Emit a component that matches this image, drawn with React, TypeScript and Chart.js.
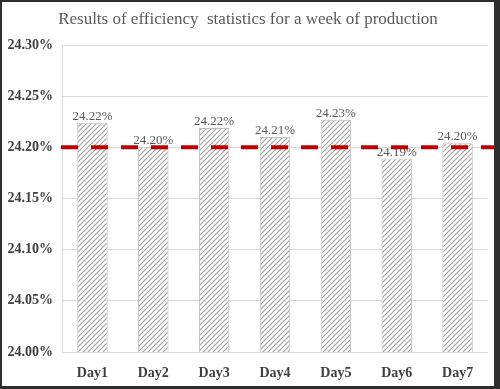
import React, { useEffect, useRef } from "react";
import { Chart, registerables } from "chart.js";

Chart.register(...registerables);

const categories = ["Day1", "Day2", "Day3", "Day4", "Day5", "Day6", "Day7"];
const efficiency = [24.224, 24.2, 24.219, 24.21, 24.227, 24.189, 24.204];
const targetValue = 24.2;
const yTicks = [24.0, 24.05, 24.1, 24.15, 24.2, 24.25, 24.3];
const titleText = "Results of efficiency  statistics for a week of production";

function makeHatch(): CanvasPattern | string {
  const s = 5;
  const c = document.createElement("canvas");
  c.width = s;
  c.height = s;
  const ctx = c.getContext("2d");
  if (!ctx) return "#ffffff";
  ctx.fillStyle = "#ffffff";
  ctx.fillRect(0, 0, s, s);
  ctx.strokeStyle = "#a0a0a0";
  ctx.lineWidth = 1.2;
  ctx.beginPath();
  ctx.moveTo(-1, s + 1);
  ctx.lineTo(s + 1, -1);
  ctx.moveTo(-1, 1);
  ctx.lineTo(1, -1);
  ctx.moveTo(s - 1, s + 1);
  ctx.lineTo(s + 1, s - 1);
  ctx.stroke();
  return ctx.createPattern(c, "repeat") || "#ffffff";
}

const serif = "'Liberation Serif', 'Times New Roman', serif";

export default function App() {
  const ref = useRef<HTMLCanvasElement | null>(null);

  useEffect(() => {
    document.body.style.margin = "0";
    const canvas = ref.current;
    if (!canvas) return;

    const framePlugin = {
      id: "frame",
      beforeDraw(chart: any) {
        const ctx = chart.ctx;
        ctx.save();
        ctx.fillStyle = "#ffffff";
        ctx.fillRect(0, 0, chart.width, chart.height);
        ctx.fillStyle = "#595959";
        ctx.font = `17px ${serif}`;
        ctx.textAlign = "center";
        ctx.textBaseline = "middle";
        ctx.fillText(titleText, 248, 20);
        ctx.restore();
      },
      afterDraw(chart: any) {
        const ctx = chart.ctx;
        const w = chart.width;
        const h = chart.height;
        ctx.save();
        ctx.fillStyle = "#2e2e2e";
        ctx.fillRect(0, 0, w, 2);
        ctx.fillRect(0, 0, 2, h);
        ctx.fillRect(w - 6, 0, 6, h);
        ctx.fillRect(0, h - 3, w, 3);
        ctx.restore();
      },
    };

    const labelsPlugin = {
      id: "labelsAndTarget",
      afterDatasetsDraw(chart: any) {
        const ctx = chart.ctx;
        const meta = chart.getDatasetMeta(0);
        ctx.save();
        ctx.fillStyle = "#595959";
        ctx.font = `13px ${serif}`;
        ctx.textAlign = "center";
        ctx.textBaseline = "alphabetic";
        meta.data.forEach((bar: any, i: number) => {
          ctx.fillText(efficiency[i].toFixed(2) + "%", bar.x, bar.y - 3);
        });
        const y = chart.scales.y.getPixelForValue(targetValue);
        ctx.strokeStyle = "#c00000";
        ctx.lineWidth = 4;
        ctx.setLineDash([17, 13]);
        ctx.beginPath();
        ctx.moveTo(chart.chartArea.left - 1, y);
        ctx.lineTo(chart.width, y);
        ctx.stroke();
        ctx.restore();
      },
    };

    const chart = new Chart(canvas, {
      type: "bar",
      data: {
        labels: categories,
        datasets: [
          {
            data: efficiency,
            backgroundColor: makeHatch() as any,
            borderColor: "#bfbfbf",
            borderWidth: 1,
            categoryPercentage: 1,
            barPercentage: 0.5,
          },
        ],
      },
      options: {
        responsive: false,
        animation: false,
        devicePixelRatio: 1,
        layout: { padding: { top: 45, right: 12, left: 0, bottom: 0 } },
        plugins: {
          legend: { display: false },
          title: { display: false },
          tooltip: { enabled: false },
        },
        scales: {
          x: {
            grid: { display: false },
            border: { display: false },
            ticks: {
              color: "#404040",
              font: { family: serif, size: 14, weight: "bold" },
              padding: 5,
            },
            afterFit(scale: any) {
              scale.height = 37;
            },
          },
          y: {
            min: yTicks[0],
            max: yTicks[yTicks.length - 1],
            afterBuildTicks(scale: any) {
              scale.ticks = yTicks.map((v) => ({ value: v }));
            },
            grid: { color: "#d9d9d9", lineWidth: 1, drawTicks: false },
            border: { display: true, color: "#d9d9d9" },
            ticks: {
              color: "#404040",
              font: { family: serif, size: 14, weight: "bold" },
              padding: 9,
              callback: (v: any) => Number(v).toFixed(2) + "%",
            },
            afterFit(scale: any) {
              scale.width = 62;
            },
          },
        },
      },
      plugins: [framePlugin, labelsPlugin],
    });

    return () => chart.destroy();
  }, []);

  return (
    <div style={{ width: 500, height: 389 }}>
      <canvas ref={ref} width={500} height={389} />
    </div>
  );
}
